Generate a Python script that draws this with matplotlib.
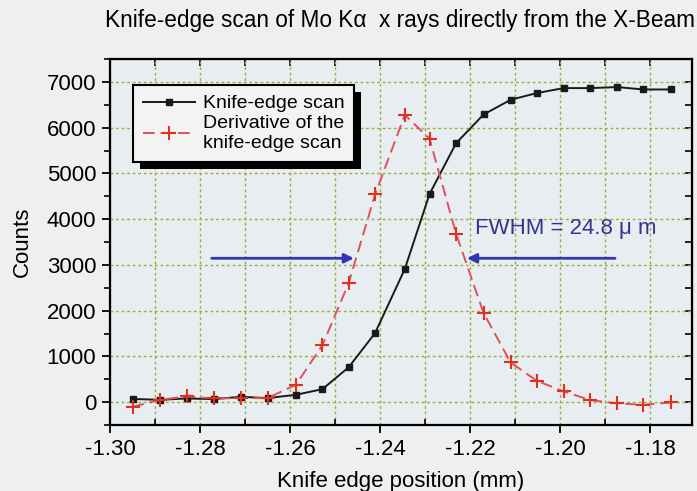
import matplotlib
matplotlib.use("Agg")
import matplotlib.pyplot as plt
from matplotlib.ticker import MultipleLocator, FormatStrFormatter
from matplotlib.patches import Rectangle

plt.rcParams['font.family'] = ['Liberation Sans', 'DejaVu Sans']

# Data
position = [-1.2950, -1.2889, -1.2830, -1.2770, -1.2709, -1.2650, -1.2587,
            -1.2528, -1.2470, -1.2411, -1.2345, -1.2290, -1.2231, -1.2170,
            -1.2110, -1.2052, -1.1992, -1.1933, -1.1873, -1.1815, -1.1753]
scan_counts = [70, 50, 80, 66, 116, 88, 160, 284, 759, 1510, 2910, 4551,
               5661, 6287, 6608, 6755, 6864, 6864, 6886, 6834, 6834]
deriv_counts = [-103, 50, 124, 80, 88, 88, 379, 1247, 2597, 4540, 6280,
                5755, 3676, 1947, 868, 466, 234, 44, -28, -59, -7]

title = "Knife-edge scan of Mo K\u03b1  x rays directly from the X-Beam"
xlabel = "Knife edge position (mm)"
ylabel = "Counts"
legend_labels = ["Knife-edge scan", "Derivative of the\nknife-edge scan"]
fwhm_text = "FWHM = 24.8 \u03bc m"
fwhm_level = 3144
left_arrow = (-1.2774, -1.2458)
right_arrow = (-1.1878, -1.2207)

fig = plt.figure(figsize=(6.97, 4.91), dpi=100)
fig.patch.set_facecolor('#efefef')
ax = fig.add_axes([110/697, 66/491, 582/697, 366/491])
ax.set_facecolor('#e8edf1')

ax.set_xlim(-1.30, -1.1707)
ax.set_ylim(-500, 7500)

ax.xaxis.set_major_locator(MultipleLocator(0.02))
ax.xaxis.set_minor_locator(MultipleLocator(0.01))
ax.xaxis.set_major_formatter(FormatStrFormatter('%.2f'))
ax.yaxis.set_major_locator(MultipleLocator(1000))
ax.yaxis.set_minor_locator(MultipleLocator(500))

grid_kw = dict(color='#9aae3c', linestyle=(0, (2, 2)), linewidth=1.0)
ax.grid(True, which='major', axis='y', **grid_kw)
ax.grid(True, which='minor', axis='x', **grid_kw)
ax.grid(True, which='major', axis='x', **grid_kw)

for s in ax.spines.values():
    s.set_linewidth(1.6)
    s.set_color('black')

ax.tick_params(axis='both', which='major', direction='out', length=6, width=1.3,
               labelsize=16, pad=4, top=False, right=False)
ax.tick_params(axis='x', which='minor', direction='in', length=4, width=1.2, top=False)
ax.tick_params(axis='y', which='minor', direction='out', length=4, width=1.2, right=False)

secx = ax.secondary_xaxis('top')
secx.xaxis.set_major_locator(MultipleLocator(0.01))
secx.tick_params(direction='in', length=5, width=1.2, labeltop=False)
secy = ax.secondary_yaxis('right')
secy.yaxis.set_major_locator(MultipleLocator(500))
secy.tick_params(direction='in', length=5, width=1.2, labelright=False)

l1, = ax.plot(position, scan_counts, color='#1a1a1a', linewidth=1.4, marker='s',
              markersize=4.5, label=legend_labels[0], zorder=3)
l2, = ax.plot(position, deriv_counts, color='#e0505a', linewidth=1.4,
              linestyle=(0, (6, 3)), marker='+', markersize=10, markeredgewidth=1.5,
              markeredgecolor='#e03020', label=legend_labels[1], zorder=4)

arrow_color = '#3434b8'
ax.annotate('', xy=(left_arrow[1], fwhm_level), xytext=(left_arrow[0], fwhm_level),
            arrowprops=dict(arrowstyle='-|>', color=arrow_color, lw=2,
                            mutation_scale=14, shrinkA=0, shrinkB=0), zorder=5)
ax.annotate('', xy=(right_arrow[1], fwhm_level), xytext=(right_arrow[0], fwhm_level),
            arrowprops=dict(arrowstyle='-|>', color=arrow_color, lw=2,
                            mutation_scale=14, shrinkA=0, shrinkB=0), zorder=5)
ax.text(-1.2189, 3796, fwhm_text, color='#34348c', fontsize=16, ha='left',
        va='center', zorder=6)

leg = ax.legend(loc='upper left', bbox_to_anchor=(0.0395, 0.929), borderaxespad=0,
                fontsize=14, frameon=True, fancybox=False, edgecolor='black',
                facecolor='#f3f3f3', framealpha=1, handlelength=2.7,
                handletextpad=0.4, borderpad=0.5, labelspacing=0.15)
leg.get_frame().set_linewidth(1.5)
leg.set_zorder(10)

fig.text(105/697, 1 - 21/491, title, fontsize=16.3, ha='left', va='center')
ax.set_xlabel(xlabel, fontsize=16, labelpad=8)
ax.set_ylabel(ylabel, fontsize=16, labelpad=10)

# offset black shadow behind the legend
fig.canvas.draw()
bb = leg.get_window_extent()
inv = fig.transFigure.inverted()
(x0, y0), (x1, y1) = inv.transform([[bb.x0, bb.y0], [bb.x1, bb.y1]])
dx, dy = 7/697, 7/491
shadow = Rectangle((x0 + dx, y0 - dy), x1 - x0, y1 - y0, transform=fig.transFigure,
                   facecolor='black', edgecolor='none', zorder=9)
ax.add_artist(shadow)
shadow.set_clip_on(False)

fig.savefig('out.png', dpi=100, facecolor=fig.get_facecolor())
